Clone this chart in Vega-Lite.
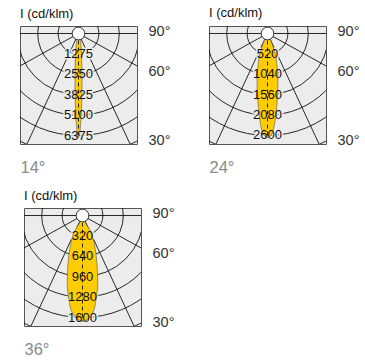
{
  "$schema": "https://vega.github.io/schema/vega-lite/v6.json",
  "padding": {"left": 19, "top": 6, "right": 0, "bottom": 0},
  "spacing": 13,
  "resolve": {"scale": {"size": "independent"}},
  "config": {
    "font": "Liberation Sans",
    "view": {"stroke": "#555555", "strokeWidth": 1, "fill": "#ececec"},
    "title": {"anchor": "start", "fontSize": 13, "fontWeight": "normal", "offset": 3, "color": "#111111", "font": "Liberation Sans"}
  },
  "vconcat": [
    {
      "spacing": 30,
      "resolve": {"scale": {"size": "independent"}},
      "hconcat": [
        {
          "width": 117, "height": 118,
          "title": "I (cd/klm)",
          "layer": [
            {
              "data": {"values": [{"o": 0, "r": 1275}, {"o": 0, "r": 2550}, {"o": 0, "r": 3825}, {"o": 0, "r": 5100}, {"o": 0, "r": 6375}, {"o": 0, "r": 7650}]},
              "mark": {"type": "point", "shape": "circle", "filled": false, "stroke": "#111111", "strokeWidth": 0.9, "clip": true, "opacity": 1},
              "encoding": {
                "x": {"field": "o", "type": "quantitative", "scale": {"domain": [-3656, 3656], "nice": false, "zero": false},
                      "axis": {"title": "14°", "labels": false, "ticks": false, "domain": false, "grid": false, "titleAnchor": "start", "titleFontSize": 16.5, "titleFontWeight": "normal", "titleColor": "#8a8a8a", "titlePadding": 15, "minExtent": 0, "maxExtent": 0}},
                "y": {"field": "o", "type": "quantitative", "scale": {"domain": [-469, 6906], "nice": false, "zero": false, "reverse": true},
                      "axis": {"orient": "right", "values": [-125, 2375, 6688], "labelExpr": "datum.value < 0 ? '90°' : datum.value < 4000 ? '60°' : '30°'", "title": null, "domain": false, "ticks": false, "grid": false, "labelPadding": 11, "labelFontSize": 14.5, "labelColor": "#333333", "labelFlush": false, "labelOverlap": false, "labelBound": false, "minExtent": 40, "maxExtent": 40, "labelAlign": "left", "labelBaseline": "middle"}},
                "size": {"field": "r", "type": "quantitative", "legend": null, "scale": {"type": "pow", "exponent": 2, "domain": [0, 7650], "range": [0, 59927], "nice": false, "zero": true}}
              }
            },
            {
              "data": {"values": [{"o": 0, "ex": -8921, "ey": 4945}, {"o": 0, "ex": 8921, "ey": 4945}, {"o": 0, "ex": -4311, "ey": 9244}, {"o": 0, "ex": 4311, "ey": 9244}, {"o": 0, "ex": -10200, "ey": 0}, {"o": 0, "ex": 10200, "ey": 0}]},
              "mark": {"type": "rule", "stroke": "#111111", "strokeWidth": 0.9, "clip": true},
              "encoding": {
                "x": {"field": "o", "type": "quantitative"},
                "y": {"field": "o", "type": "quantitative"},
                "x2": {"field": "ex"},
                "y2": {"field": "ey"}
              }
            },
            {
              "data": {"values": [{"o": 0, "v": 1275}, {"o": 0, "v": 2550}, {"o": 0, "v": 3825}, {"o": 0, "v": 5100}, {"o": 0, "v": 6375}]},
              "mark": {"type": "text", "fontSize": 13, "baseline": "middle", "align": "center", "fill": "#ececec", "stroke": "#ececec", "strokeWidth": 3, "strokeJoin": "round"},
              "encoding": {
                "x": {"field": "o", "type": "quantitative"},
                "y": {"field": "v", "type": "quantitative"},
                "text": {"field": "v", "type": "quantitative", "format": "d"}
              }
            },
            {
              "data": {"values": [{"d": 0, "lo": 0, "hi": 0}, {"d": 300, "lo": -90, "hi": 90}, {"d": 750, "lo": -150, "hi": 150}, {"d": 1550, "lo": -200, "hi": 200}, {"d": 2500, "lo": -220, "hi": 220}, {"d": 3450, "lo": -220, "hi": 220}, {"d": 4350, "lo": -200, "hi": 200}, {"d": 5300, "lo": -160, "hi": 160}, {"d": 5950, "lo": -110, "hi": 110}, {"d": 6300, "lo": -65, "hi": 65}, {"d": 6500, "lo": 0, "hi": 0}]},
              "mark": {"type": "area", "orient": "horizontal", "fill": "#ffcc00", "stroke": "#555555", "strokeWidth": 0.6, "interpolate": "monotone", "opacity": 1},
              "encoding": {
                "y": {"field": "d", "type": "quantitative"},
                "x": {"field": "lo", "type": "quantitative"},
                "x2": {"field": "hi"}
              }
            },
            {
              "data": {"values": [{"o": 0, "tip": 6500}]},
              "mark": {"type": "rule", "stroke": "#111111", "strokeWidth": 0.9, "strokeDash": [4, 3]},
              "encoding": {
                "x": {"field": "o", "type": "quantitative"},
                "y": {"field": "o", "type": "quantitative"},
                "y2": {"field": "tip"}
              }
            },
            {
              "data": {"values": [{"o": 0, "v": 1275}, {"o": 0, "v": 2550}, {"o": 0, "v": 3825}, {"o": 0, "v": 5100}, {"o": 0, "v": 6375}]},
              "mark": {"type": "text", "fontSize": 13, "baseline": "middle", "align": "center", "fill": "#111111"},
              "encoding": {
                "x": {"field": "o", "type": "quantitative"},
                "y": {"field": "v", "type": "quantitative"},
                "text": {"field": "v", "type": "quantitative", "format": "d"}
              }
            },
            {
              "data": {"values": [{"o": 0}]},
              "mark": {"type": "point", "shape": "circle", "filled": true, "fill": "#ffffff", "stroke": "#222222", "strokeWidth": 0.9, "size": 160, "opacity": 1},
              "encoding": {
                "x": {"field": "o", "type": "quantitative"},
                "y": {"field": "o", "type": "quantitative"}
              }
            }
          ]
        },
        {
          "width": 117, "height": 118,
          "title": "I (cd/klm)",
          "layer": [
            {
              "data": {"values": [{"o": 0, "r": 520}, {"o": 0, "r": 1040}, {"o": 0, "r": 1560}, {"o": 0, "r": 2080}, {"o": 0, "r": 2600}, {"o": 0, "r": 3120}]},
              "mark": {"type": "point", "shape": "circle", "filled": false, "stroke": "#111111", "strokeWidth": 0.9, "clip": true, "opacity": 1},
              "encoding": {
                "x": {"field": "o", "type": "quantitative", "scale": {"domain": [-1491, 1491], "nice": false, "zero": false},
                      "axis": {"title": "24°", "labels": false, "ticks": false, "domain": false, "grid": false, "titleAnchor": "start", "titleFontSize": 16.5, "titleFontWeight": "normal", "titleColor": "#8a8a8a", "titlePadding": 15, "minExtent": 0, "maxExtent": 0}},
                "y": {"field": "o", "type": "quantitative", "scale": {"domain": [-191, 2817], "nice": false, "zero": false, "reverse": true},
                      "axis": {"orient": "right", "values": [-51, 969, 2727], "labelExpr": "datum.value < 0 ? '90°' : datum.value < 1600 ? '60°' : '30°'", "title": null, "domain": false, "ticks": false, "grid": false, "labelPadding": 11, "labelFontSize": 14.5, "labelColor": "#333333", "labelFlush": false, "labelOverlap": false, "labelBound": false, "minExtent": 40, "maxExtent": 40, "labelAlign": "left", "labelBaseline": "middle"}},
                "size": {"field": "r", "type": "quantitative", "legend": null, "scale": {"type": "pow", "exponent": 2, "domain": [0, 3120], "range": [0, 59927], "nice": false, "zero": true}}
              }
            },
            {
              "data": {"values": [{"o": 0, "ex": -3638, "ey": 2017}, {"o": 0, "ex": 3638, "ey": 2017}, {"o": 0, "ex": -1758, "ey": 3770}, {"o": 0, "ex": 1758, "ey": 3770}, {"o": 0, "ex": -4160, "ey": 0}, {"o": 0, "ex": 4160, "ey": 0}]},
              "mark": {"type": "rule", "stroke": "#111111", "strokeWidth": 0.9, "clip": true},
              "encoding": {
                "x": {"field": "o", "type": "quantitative"},
                "y": {"field": "o", "type": "quantitative"},
                "x2": {"field": "ex"},
                "y2": {"field": "ey"}
              }
            },
            {
              "data": {"values": [{"o": 0, "v": 520}, {"o": 0, "v": 1040}, {"o": 0, "v": 1560}, {"o": 0, "v": 2080}, {"o": 0, "v": 2600}]},
              "mark": {"type": "text", "fontSize": 13, "baseline": "middle", "align": "center", "fill": "#ececec", "stroke": "#ececec", "strokeWidth": 3, "strokeJoin": "round"},
              "encoding": {
                "x": {"field": "o", "type": "quantitative"},
                "y": {"field": "v", "type": "quantitative"},
                "text": {"field": "v", "type": "quantitative", "format": "d"}
              }
            },
            {
              "data": {"values": [{"d": 0, "lo": 0, "hi": 0}, {"d": 130, "lo": -60, "hi": 60}, {"d": 255, "lo": -110, "hi": 110}, {"d": 510, "lo": -195, "hi": 195}, {"d": 840, "lo": -245, "hi": 245}, {"d": 1190, "lo": -268, "hi": 268}, {"d": 1530, "lo": -260, "hi": 260}, {"d": 1860, "lo": -235, "hi": 235}, {"d": 2210, "lo": -195, "hi": 195}, {"d": 2460, "lo": -145, "hi": 145}, {"d": 2600, "lo": -85, "hi": 85}, {"d": 2660, "lo": 0, "hi": 0}]},
              "mark": {"type": "area", "orient": "horizontal", "fill": "#ffcc00", "stroke": "#555555", "strokeWidth": 0.6, "interpolate": "monotone", "opacity": 1},
              "encoding": {
                "y": {"field": "d", "type": "quantitative"},
                "x": {"field": "lo", "type": "quantitative"},
                "x2": {"field": "hi"}
              }
            },
            {
              "data": {"values": [{"o": 0, "tip": 2660}]},
              "mark": {"type": "rule", "stroke": "#111111", "strokeWidth": 0.9, "strokeDash": [4, 3]},
              "encoding": {
                "x": {"field": "o", "type": "quantitative"},
                "y": {"field": "o", "type": "quantitative"},
                "y2": {"field": "tip"}
              }
            },
            {
              "data": {"values": [{"o": 0, "v": 520}, {"o": 0, "v": 1040}, {"o": 0, "v": 1560}, {"o": 0, "v": 2080}, {"o": 0, "v": 2600}]},
              "mark": {"type": "text", "fontSize": 13, "baseline": "middle", "align": "center", "fill": "#111111"},
              "encoding": {
                "x": {"field": "o", "type": "quantitative"},
                "y": {"field": "v", "type": "quantitative"},
                "text": {"field": "v", "type": "quantitative", "format": "d"}
              }
            },
            {
              "data": {"values": [{"o": 0}]},
              "mark": {"type": "point", "shape": "circle", "filled": true, "fill": "#ffffff", "stroke": "#222222", "strokeWidth": 0.9, "size": 160, "opacity": 1},
              "encoding": {
                "x": {"field": "o", "type": "quantitative"},
                "y": {"field": "o", "type": "quantitative"}
              }
            }
          ]
        }
      ]
    },
    {
      "spacing": 2,
      "resolve": {"scale": {"size": "independent"}},
      "hconcat": [
        {
          "width": 1, "height": 1,
          "view": {"stroke": null, "fill": null},
          "data": {"values": []},
          "mark": {"type": "point", "opacity": 0},
          "encoding": {}
        },
        {
          "width": 117, "height": 118,
          "title": "I (cd/klm)",
          "layer": [
            {
              "data": {"values": [{"o": 0, "r": 320}, {"o": 0, "r": 640}, {"o": 0, "r": 960}, {"o": 0, "r": 1280}, {"o": 0, "r": 1600}, {"o": 0, "r": 1920}]},
              "mark": {"type": "point", "shape": "circle", "filled": false, "stroke": "#111111", "strokeWidth": 0.9, "clip": true, "opacity": 1},
              "encoding": {
                "x": {"field": "o", "type": "quantitative", "scale": {"domain": [-918, 918], "nice": false, "zero": false},
                      "axis": {"title": "36°", "labels": false, "ticks": false, "domain": false, "grid": false, "titleAnchor": "start", "titleFontSize": 16.5, "titleFontWeight": "normal", "titleColor": "#8a8a8a", "titlePadding": 15, "minExtent": 0, "maxExtent": 0}},
                "y": {"field": "o", "type": "quantitative", "scale": {"domain": [-118, 1733], "nice": false, "zero": false, "reverse": true},
                      "axis": {"orient": "right", "values": [-31, 596, 1678], "labelExpr": "datum.value < 0 ? '90°' : datum.value < 1000 ? '60°' : '30°'", "title": null, "domain": false, "ticks": false, "grid": false, "labelPadding": 11, "labelFontSize": 14.5, "labelColor": "#333333", "labelFlush": false, "labelOverlap": false, "labelBound": false, "minExtent": 40, "maxExtent": 40, "labelAlign": "left", "labelBaseline": "middle"}},
                "size": {"field": "r", "type": "quantitative", "legend": null, "scale": {"type": "pow", "exponent": 2, "domain": [0, 1920], "range": [0, 59927], "nice": false, "zero": true}}
              }
            },
            {
              "data": {"values": [{"o": 0, "ex": -2239, "ey": 1241}, {"o": 0, "ex": 2239, "ey": 1241}, {"o": 0, "ex": -1082, "ey": 2320}, {"o": 0, "ex": 1082, "ey": 2320}, {"o": 0, "ex": -2560, "ey": 0}, {"o": 0, "ex": 2560, "ey": 0}]},
              "mark": {"type": "rule", "stroke": "#111111", "strokeWidth": 0.9, "clip": true},
              "encoding": {
                "x": {"field": "o", "type": "quantitative"},
                "y": {"field": "o", "type": "quantitative"},
                "x2": {"field": "ex"},
                "y2": {"field": "ey"}
              }
            },
            {
              "data": {"values": [{"o": 0, "v": 320}, {"o": 0, "v": 640}, {"o": 0, "v": 960}, {"o": 0, "v": 1280}, {"o": 0, "v": 1600}]},
              "mark": {"type": "text", "fontSize": 13, "baseline": "middle", "align": "center", "fill": "#ececec", "stroke": "#ececec", "strokeWidth": 3, "strokeJoin": "round"},
              "encoding": {
                "x": {"field": "o", "type": "quantitative"},
                "y": {"field": "v", "type": "quantitative"},
                "text": {"field": "v", "type": "quantitative", "format": "d"}
              }
            },
            {
              "data": {"values": [{"d": 0, "lo": 0, "hi": 0}, {"d": 130, "lo": -52, "hi": 52}, {"d": 235, "lo": -120, "hi": 120}, {"d": 340, "lo": -157, "hi": 157}, {"d": 500, "lo": -196, "hi": 196}, {"d": 705, "lo": -223, "hi": 223}, {"d": 910, "lo": -236, "hi": 236}, {"d": 1035, "lo": -240, "hi": 240}, {"d": 1175, "lo": -233, "hi": 233}, {"d": 1335, "lo": -209, "hi": 209}, {"d": 1490, "lo": -176, "hi": 176}, {"d": 1595, "lo": -110, "hi": 110}, {"d": 1645, "lo": -50, "hi": 50}, {"d": 1660, "lo": 0, "hi": 0}]},
              "mark": {"type": "area", "orient": "horizontal", "fill": "#ffcc00", "stroke": "#555555", "strokeWidth": 0.6, "interpolate": "monotone", "opacity": 1},
              "encoding": {
                "y": {"field": "d", "type": "quantitative"},
                "x": {"field": "lo", "type": "quantitative"},
                "x2": {"field": "hi"}
              }
            },
            {
              "data": {"values": [{"o": 0, "tip": 1660}]},
              "mark": {"type": "rule", "stroke": "#111111", "strokeWidth": 0.9, "strokeDash": [4, 3]},
              "encoding": {
                "x": {"field": "o", "type": "quantitative"},
                "y": {"field": "o", "type": "quantitative"},
                "y2": {"field": "tip"}
              }
            },
            {
              "data": {"values": [{"o": 0, "v": 320}, {"o": 0, "v": 640}, {"o": 0, "v": 960}, {"o": 0, "v": 1280}, {"o": 0, "v": 1600}]},
              "mark": {"type": "text", "fontSize": 13, "baseline": "middle", "align": "center", "fill": "#111111"},
              "encoding": {
                "x": {"field": "o", "type": "quantitative"},
                "y": {"field": "v", "type": "quantitative"},
                "text": {"field": "v", "type": "quantitative", "format": "d"}
              }
            },
            {
              "data": {"values": [{"o": 0}]},
              "mark": {"type": "point", "shape": "circle", "filled": true, "fill": "#ffffff", "stroke": "#222222", "strokeWidth": 0.9, "size": 160, "opacity": 1},
              "encoding": {
                "x": {"field": "o", "type": "quantitative"},
                "y": {"field": "o", "type": "quantitative"}
              }
            }
          ]
        }
      ]
    }
  ]
}
